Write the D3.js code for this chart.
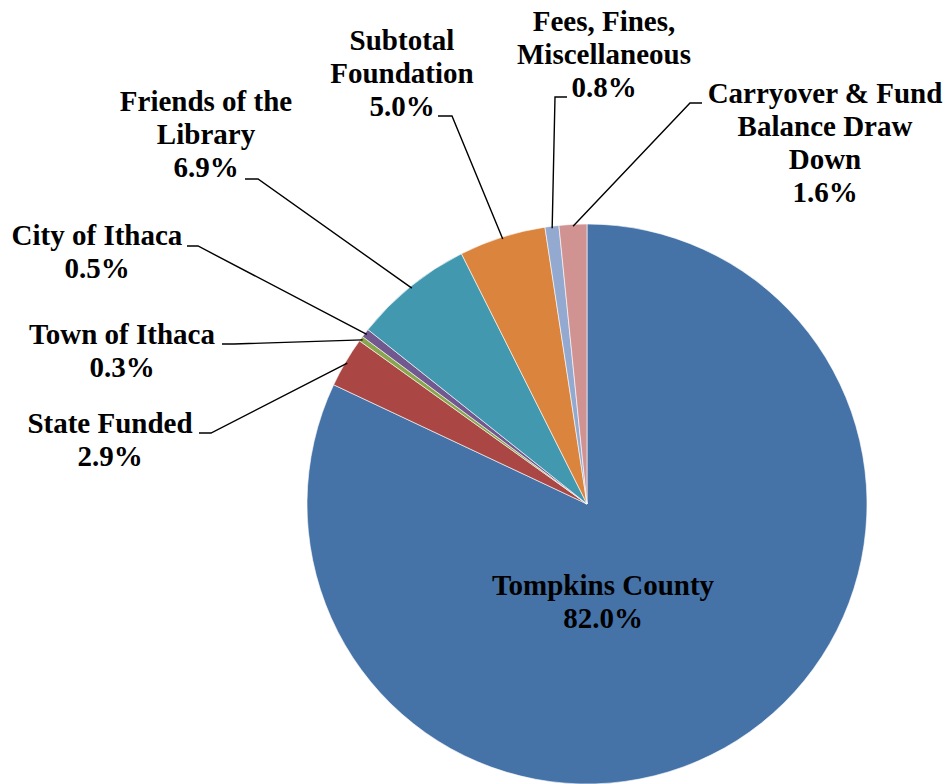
<!DOCTYPE html>
<html>
<head>
<meta charset="utf-8">
<script src="https://cdn.jsdelivr.net/npm/d3@7"></script>
<style>
  body { margin: 0; background: #fff; }
</style>
</head>
<body>
<svg width="949" height="784"></svg>
<script>
// data
const categories = ["Tompkins County", "State Funded", "Town of Ithaca", "City of Ithaca",
  "Friends of the Library", "Subtotal Foundation", "Fees, Fines, Miscellaneous",
  "Carryover & Fund Balance Draw Down"];
const shares = [82.0, 2.9, 0.3, 0.5, 6.9, 5.0, 0.8, 1.6];
const colors = ["#4572A7", "#AA4643", "#89A54E", "#71588F", "#4198AF", "#DB843D", "#93A9CF", "#D19392"];

// label layout (wrapped text, first baseline, leader stub: edge x, y, knee x)
const labelLines = [
  ["Tompkins County"], ["State Funded"], ["Town of Ithaca"], ["City of Ithaca"],
  ["Friends of the", "Library"], ["Subtotal", "Foundation"], ["Fees, Fines,", "Miscellaneous"],
  ["Carryover & Fund", "Balance Draw", "Down"]
];
const labelPos = [
  { x: 603, y: 595, stub: null },
  { x: 110, y: 433, stub: [199, 433, 211] },
  { x: 122, y: 344, stub: [222, 344, 234] },
  { x: 97, y: 245, stub: [187, 246, 198] },
  { x: 206, y: 111, stub: [245, 179, 258] },
  { x: 402, y: 50, stub: [438, 116, 452] },
  { x: 604, y: 31, stub: [567, 97, 555] },
  { x: 825, y: 103, stub: [702, 103, 690] }
];
const lineH = 33;

const svg = d3.select("svg");
const cx = 587, cy = 504, r = 280;

const pie = d3.pie().sort(null).value(d => d);
const arcs = pie(shares);
const arc = d3.arc().innerRadius(0).outerRadius(r);
const rim = d3.arc().innerRadius(r - 2).outerRadius(r - 2);

const g = svg.append("g").attr("transform", `translate(${cx},${cy})`);

g.selectAll("path.slice")
  .data(arcs)
  .join("path")
  .classed("slice", true)
  .attr("d", arc)
  .attr("fill", (d, i) => colors[i])
  .attr("stroke", "#fff")
  .attr("stroke-width", 0.6);

// leader lines
svg.append("g")
  .selectAll("polyline")
  .data(arcs.filter((d, i) => labelPos[i].stub))
  .join("polyline")
  .attr("fill", "none")
  .attr("stroke", "#000")
  .attr("stroke-width", 1.4)
  .attr("points", function (d) {
    const s = labelPos[d.index].stub;
    const p = rim.centroid(d);
    return [[s[0], s[1]], [s[2], s[1]], [cx + p[0], cy + p[1]]].join(" ");
  });

// labels
const fmt = d3.format(".1f");
const labels = svg.append("g")
  .style("font-family", "'Liberation Serif', 'Times New Roman', Times, 'DejaVu Serif', serif")
  .style("font-weight", "700")
  .style("font-size", "29px")
  .attr("fill", "#000")
  .selectAll("text")
  .data(arcs)
  .join("text")
  .attr("text-anchor", "middle")
  .attr("x", d => labelPos[d.index].x)
  .attr("y", d => labelPos[d.index].y);

labels.each(function (d) {
  const lines = labelLines[d.index].concat([fmt(shares[d.index]) + "%"]);
  d3.select(this).selectAll("tspan")
    .data(lines)
    .join("tspan")
    .attr("x", labelPos[d.index].x)
    .attr("dy", (t, j) => j === 0 ? 0 : lineH)
    .text(t => t);
});
</script>
</body>
</html>
